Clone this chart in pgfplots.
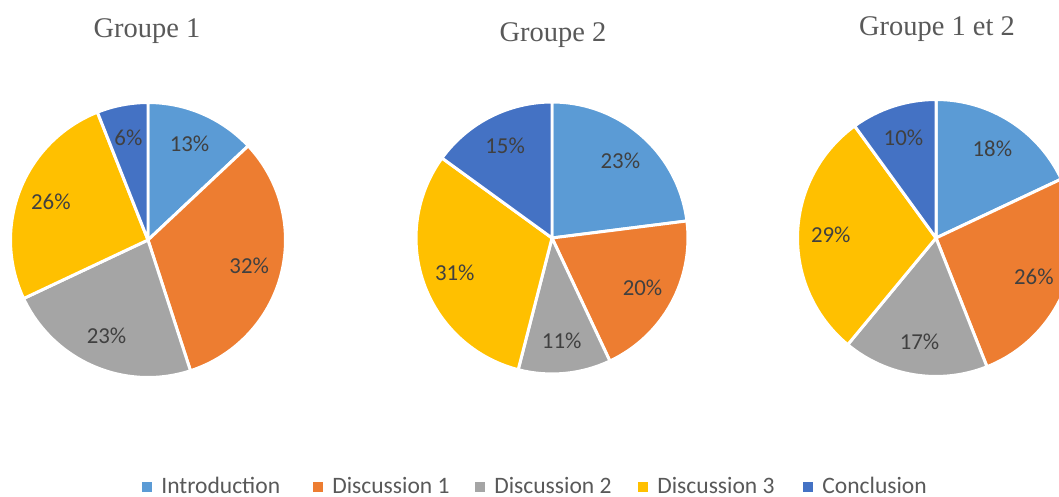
\documentclass[border=0pt]{standalone}
\usepackage{pgfplots}
\pgfplotsset{compat=1.18}
\usepackage{pgfplotstable}
\usepackage{fontspec}
\setmainfont{Liberation Serif}
\newfontfamily\calibri{Carlito}
\definecolor{pie0}{HTML}{5B9BD5}
\definecolor{pie1}{HTML}{ED7D31}
\definecolor{pie2}{HTML}{A5A5A5}
\definecolor{pie3}{HTML}{FFC000}
\definecolor{pie4}{HTML}{4472C4}
\definecolor{labelgray}{HTML}{404040}
\definecolor{textgray}{HTML}{595959}

\pgfplotstableread{
part value
Introduction 13
Discussion1 32
Discussion2 23
Discussion3 26
Conclusion 6
}\groupA
\pgfplotstableread{
part value
Introduction 23
Discussion1 20
Discussion2 11
Discussion3 31
Conclusion 15
}\groupB
\pgfplotstableread{
part value
Introduction 18
Discussion1 26
Discussion2 17
Discussion3 29
Conclusion 10
}\groupAB

\newcommand\piefill[2]{%
  \def\cum{0}%
  \pgfmathsetlengthmacro\rl{0.76*#2}%
  \pgfplotsforeachungrouped \k in {0,...,4}{%
    \pgfplotstablegetelem{\k}{value}\of{#1}\let\v\pgfplotsretval
    \pgfmathsetmacro\aS{90-3.6*\cum}%
    \pgfmathsetmacro\aE{90-3.6*(\cum+\v)}%
    \pgfmathsetmacro\aM{(\aS+\aE)/2}%
    \pgfmathsetmacro\cum{\cum+\v}%
    \pgfmathtruncatemacro\vv{\v}%
    \edef\temp{%
      \noexpand\filldraw[fill=pie\k, draw=white, line width=1.7pt, line join=round]
        (axis cs:0,0) -- ++(\aS:#2) arc[start angle=\aS, end angle=\aE, radius=#2] -- cycle;
    }%
    \temp
  }%
  \def\cum{0}%
  \pgfplotsforeachungrouped \k in {0,...,4}{%
    \pgfplotstablegetelem{\k}{value}\of{#1}\let\v\pgfplotsretval
    \pgfmathsetmacro\aS{90-3.6*\cum}%
    \pgfmathsetmacro\aE{90-3.6*(\cum+\v)}%
    \pgfmathsetmacro\aM{(\aS+\aE)/2}%
    \pgfmathsetmacro\cum{\cum+\v}%
    \pgfmathtruncatemacro\vv{\v}%
    \edef\temp{%
      \noexpand\path (axis cs:0,0) ++(\aM:\rl) node[text=labelgray, inner sep=0pt,
        font=\noexpand\calibri\noexpand\fontsize{13}{15}\noexpand\selectfont] {\vv\noexpand\%};
    }%
    \temp
  }%
}

\def\u{0.02cm}

\begin{document}
\begin{tikzpicture}
\useasboundingbox (0,0) rectangle ({1059*\u},{497*\u});
\clip (0,0) rectangle ({1059*\u},{497*\u});

\begin{axis}[at={({148*\u},{257*\u})}, anchor=center, hide axis,
  x=2.75cm, y=2.75cm, xmin=-1, xmax=1, ymin=-1, ymax=1, clip=false]
\piefill{\groupA}{2.75cm}
\end{axis}

\begin{axis}[at={({552*\u},{259*\u})}, anchor=center, hide axis,
  x=2.72cm, y=2.72cm, xmin=-1, xmax=1, ymin=-1, ymax=1, clip=false]
\piefill{\groupB}{2.72cm}
\end{axis}

\begin{axis}[at={({936*\u},{259*\u})}, anchor=center, hide axis,
  x=2.77cm, y=2.77cm, xmin=-1, xmax=1, ymin=-1, ymax=1, clip=false]
\piefill{\groupAB}{2.77cm}
\end{axis}

% titles
\begin{scope}[every node/.style={text=textgray, font=\fontsize{16.2}{19}\selectfont, inner sep=0pt, anchor=base}]
\node at ({147*\u},{(497-38)*\u}) {Groupe 1};
\node at ({553*\u},{(497-42)*\u}) {Groupe 2};
\node at ({937*\u},{(497-36)*\u}) {Groupe 1 et 2};
\end{scope}

% legend
\begin{scope}[every node/.style={text=textgray, font=\calibri\fontsize{13.4}{16}\selectfont, inner sep=0pt, anchor=west}]
\foreach \sx/\col/\lab in {142/pie0/Introduction, 313/pie1/Discussion 1, 475/pie2/Discussion 2, 638/pie3/Discussion 3, 803/pie4/Conclusion}{
  \fill[\col] ({\sx*\u},{(497-492)*\u}) rectangle ({(\sx+10)*\u},{(497-482)*\u});
  \node at ({(\sx+19)*\u},{(497-485.5)*\u}) {\lab};
}
\end{scope}
\end{tikzpicture}
\end{document}
